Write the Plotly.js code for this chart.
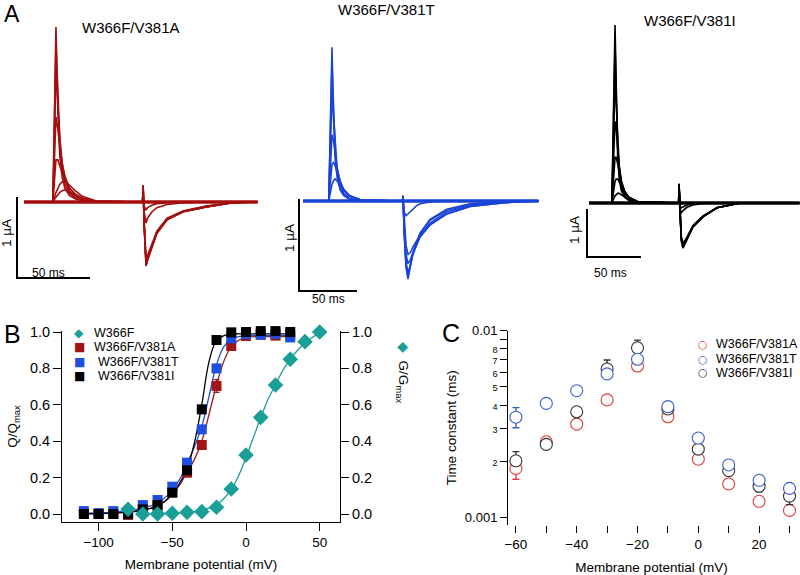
<!DOCTYPE html>
<html><head><meta charset="utf-8">
<script src="https://cdn.plot.ly/plotly-3.0.1.min.js"></script>
<style>html,body{margin:0;padding:0;background:#fff}#chart{width:800px;height:575px}</style>
</head><body><div id="chart"></div>
<script>
// ================= DATA =================
// ---- Panel A: current traces (time in ms, current in µA) ----
const tRed = [0, 19.8, 21.9, 23.2, 24.6, 26.2, 28, 31, 35, 40, 50, 81.2, 81.6, 82.3, 83.6, 84.6, 87.7, 91, 98, 109, 125, 143, 160];
const redSweeps = [
  [0,0,2.16,1.10,0.55,0.30,0.17,0.08,0.04,0.02,0, 0,0.21,-0.30,-0.79,-0.72,-0.56,-0.39,-0.22,-0.12,-0.06,-0.01,0],
  [0,0,1.98,1.30,0.72,0.40,0.22,0.11,0.05,0.02,0, 0,0.20,-0.28,-0.78,-0.71,-0.55,-0.38,-0.22,-0.12,-0.06,-0.01,0],
  [0,0,1.62,1.22,0.78,0.48,0.29,0.14,0.07,0.03,0, 0,0.20,-0.27,-0.77,-0.71,-0.55,-0.38,-0.21,-0.12,-0.06,-0.01,0],
  [0,0,1.05,0.90,0.66,0.47,0.32,0.18,0.09,0.04,0.01, 0,0.19,-0.26,-0.75,-0.69,-0.54,-0.37,-0.21,-0.11,-0.05,-0.01,0],
  [0,0,0.52,0.52,0.44,0.35,0.27,0.17,0.10,0.05,0.01, 0,0.18,-0.24,-0.72,-0.66,-0.52,-0.36,-0.20,-0.11,-0.05,-0.01,0],
  [0,0,0.12,0.18,0.22,0.25,0.26,0.21,0.14,0.07,0.01, 0,0.15,-0.12,-0.26,-0.20,-0.12,-0.07,-0.03,-0.01,0,0,0],
  [0,0,0.06,0.09,0.12,0.14,0.15,0.12,0.08,0.04,0.01, 0,0.12,-0.05,-0.10,-0.07,-0.04,-0.02,-0.01,0,0,0,0]
];
const tBlue = [0, 22.2, 25, 26.3, 27.8, 29.5, 32, 35, 40, 50, 85.8, 86.2, 87.2, 88.8, 90.5, 92.5, 94.8, 98, 101, 109.5, 124, 144, 172, 203];
const blueSweeps = [
  [0,0,1.67,0.90,0.45,0.25,0.12,0.06,0.02,0, 0,0.06,-0.35,-0.72,-0.85,-0.72,-0.57,-0.45,-0.35,-0.20,-0.09,-0.03,-0.01,0],
  [0,0,1.50,0.98,0.52,0.28,0.14,0.07,0.02,0, 0,0.06,-0.33,-0.70,-0.82,-0.70,-0.56,-0.44,-0.35,-0.21,-0.10,-0.04,-0.01,0],
  [0,0,1.18,0.92,0.58,0.34,0.18,0.09,0.03,0, 0,0.05,-0.30,-0.66,-0.78,-0.70,-0.58,-0.47,-0.38,-0.24,-0.12,-0.05,-0.01,0],
  [0,0,0.72,0.66,0.50,0.36,0.22,0.12,0.05,0.01, 0,0.05,-0.26,-0.58,-0.68,-0.64,-0.56,-0.47,-0.39,-0.26,-0.14,-0.06,-0.02,0],
  [0,0,0.40,0.42,0.38,0.31,0.21,0.13,0.06,0.01, 0,0.05,-0.22,-0.48,-0.58,-0.56,-0.50,-0.43,-0.37,-0.26,-0.14,-0.06,-0.02,0],
  [0,0,0.18,0.22,0.24,0.22,0.18,0.12,0.06,0.01, 0,0.04,-0.12,-0.16,-0.14,-0.11,-0.08,-0.05,-0.03,-0.01,0,0,0,0]
];
const tBlack = [0, 21.2, 24.1, 25.2, 26.5, 28, 30, 33, 37, 45, 83, 83.4, 84.2, 85.5, 87, 90.7, 96.3, 105.6, 118.5, 140, 195];
const blackSweeps = [
  [0,0,3.71,2.00,1.00,0.50,0.25,0.12,0.05,0.01, 0,0.40,-0.20,-0.80,-0.94,-0.77,-0.50,-0.29,-0.10,0,0],
  [0,0,3.30,2.20,1.20,0.62,0.31,0.15,0.06,0.01, 0,0.40,-0.20,-0.78,-0.92,-0.76,-0.50,-0.29,-0.10,0,0],
  [0,0,2.60,2.05,1.30,0.75,0.40,0.19,0.08,0.02, 0,0.38,-0.20,-0.76,-0.90,-0.75,-0.49,-0.28,-0.10,0,0],
  [0,0,1.70,1.55,1.15,0.78,0.46,0.23,0.10,0.02, 0,0.37,-0.19,-0.73,-0.87,-0.73,-0.48,-0.28,-0.10,0,0],
  [0,0,0.95,0.95,0.82,0.64,0.44,0.25,0.12,0.03, 0,0.35,-0.18,-0.70,-0.84,-0.71,-0.47,-0.27,-0.10,0,0],
  [0,0,0.45,0.50,0.50,0.44,0.34,0.22,0.12,0.03, 0,0.33,-0.12,-0.20,-0.16,-0.09,-0.04,-0.01,0,0,0],
  [0,0,0.15,0.18,0.20,0.20,0.17,0.12,0.07,0.02, 0,0.30,-0.08,-0.10,-0.08,-0.04,-0.02,0,0,0,0]
];
const scaleTime = 50;     // ms
const scaleCurrent = 1;   // µA
const panelTitles = ['W366F/V381A', 'W366F/V381T', 'W366F/V381I'];

// ---- Panel B: Q/Qmax and G/Gmax vs membrane potential (mV) ----
const vQ = [-110,-100,-90,-80,-70,-60,-50,-40,-30,-20,-10,0,10,20,30];
const qA = [0, 0, 0, -0.005, 0.025, 0.04, 0.12, 0.227, 0.379, 0.703, 0.923, 0.978, 0.985, 0.98, 0.985];
const qT = [0.016, 0.005, 0.016, 0.005, 0.049, 0.077, 0.15, 0.282, 0.465, 0.80, 0.965, 0.987, 0.985, 0.99, 0.97];
const qI = [0, 0, 0, 0, 0.025, 0.05, 0.117, 0.24, 0.575, 0.956, 0.998, 1.0, 1.005, 1.005, 1.0];
const qAerr = [0,0,0,0,0,0,0,0,0.02,0.035,0,0,0,0,0];
const qIerr = [0,0,0,0,0,0,0,0,0.02,0,0,0,0,0,0];
const vG = [-80,-70,-60,-50,-40,-30,-20,-10,0,10,20,30,40,50];
const gW = [0.026, 0, 0, 0.004, 0.009, 0.013, 0.037, 0.137, 0.324, 0.531, 0.709, 0.85, 0.947, 1.0];
// fitted curves
const vFitQ = [-112,-100,-90,-80,-70,-60,-55,-50,-45,-40,-35,-30,-25,-20,-15,-10,-5,0,10,20,30];
const fitQI = [0,0.002,0.005,0.01,0.02,0.045,0.07,0.11,0.17,0.25,0.39,0.6,0.84,0.955,0.98,0.99,0.99,0.99,0.99,0.99,0.99];
const fitQT = [0.003,0.006,0.01,0.018,0.032,0.06,0.09,0.13,0.19,0.275,0.37,0.48,0.65,0.82,0.92,0.96,0.975,0.98,0.98,0.98,0.98];
const fitQA = [0.002,0.004,0.007,0.012,0.022,0.045,0.07,0.11,0.16,0.23,0.30,0.40,0.55,0.71,0.84,0.92,0.955,0.97,0.975,0.975,0.975];
const vFitG = [-60,-50,-40,-30,-20,-15,-10,-5,0,5,10,15,20,25,30,35,40,45,50];
const fitG = [0.002,0.004,0.008,0.02,0.05,0.085,0.135,0.21,0.31,0.42,0.53,0.63,0.71,0.79,0.85,0.9,0.94,0.97,0.995];

// ---- Panel C: time constants vs membrane potential ----
const vTau = [-60,-50,-40,-30,-20,-10,0,10,20,30];
const tauA = [0.00183, 0.00254, 0.00316, 0.00426, 0.00647, 0.00346, 0.00205, 0.00151, 0.00122, 0.00109];
const tauT = [0.00344, 0.00408, 0.00477, 0.00587, 0.00703, 0.00392, 0.00266, 0.00191, 0.00158, 0.00143];
const tauI = [0.00201, 0.00246, 0.00368, 0.00624, 0.0081, 0.00381, 0.00232, 0.00178, 0.00147, 0.0013];
const tauAerrUp = [0, 0.00016, 0, 0, 0, 0, 0, 0, 0, 0];
const tauAerrDn = [0.00023, 0, 0, 0, 0, 0, 0, 0, 0, 0];
const tauTerrUp = [0.00043, 0, 0, 0, 0, 0, 0, 0, 0, 0.00008];
const tauTerrDn = [0.00042, 0, 0, 0, 0, 0, 0, 0, 0, 0];
const tauIerrUp = [0.00024, 0, 0, 0.00073, 0.0008, 0, 0, 0, 0, 0];
const tauIerrDn = [0, 0, 0, 0, 0, 0.00015, 0, 0, 0.0001, 0.00013];
const seriesNames = ['W366F/V381A', 'W366F/V381T', 'W366F/V381I'];

// ================= LAYOUT HELPERS =================
const W = 800, H = 575;
const FONT = 'Liberation Sans, Arial, Helvetica, sans-serif';
const px = x => x / W;
const py = y => 1 - y / H;
function calib(c) {
  return {
    domainX: [c.box[0] / W, c.box[2] / W],
    domainY: [1 - c.box[3] / H, 1 - c.box[1] / H],
    rangeX: [(c.box[0] - c.x0) / c.pxPerMs, (c.box[2] - c.x0) / c.pxPerMs],
    rangeY: [(c.y0 - c.box[3]) / c.pxPerUA, (c.y0 - c.box[1]) / c.pxPerUA],
    toT: p => (p - c.x0) / c.pxPerMs,
    toI: p => (c.y0 - p) / c.pxPerUA
  };
}
const panelsA = [
  { col: '#a50e0e', t: tRed,   sw: redSweeps,   c: calib({x0: 24,  pxPerMs: 1.46, y0: 202, pxPerUA: 81, box: [5, 12, 268, 290]}),  bar: [17, 278] },
  { col: '#1a44d6', t: tBlue,  sw: blueSweeps,  c: calib({x0: 303, pxPerMs: 1.16, y0: 201, pxPerUA: 92, box: [283, 5, 545, 300]}), bar: [299, 291] },
  { col: '#000000', t: tBlack, sw: blackSweeps, c: calib({x0: 589, pxPerMs: 1.08, y0: 203, pxPerUA: 48, box: [562, 10, 800, 270]}), bar: [587, 257] }
];

const traces = [];
const layout = {
  width: W, height: H, margin: {l: 0, r: 0, t: 0, b: 0},
  paper_bgcolor: '#fff', plot_bgcolor: 'rgba(0,0,0,0)',
  showlegend: false, hovermode: false,
  font: {family: FONT, size: 13, color: '#000'},
  annotations: []
};
function ann(text, x, y, o) {
  layout.annotations.push(Object.assign({text, x: px(x), y: py(y), xref: 'paper', yref: 'paper',
    showarrow: false, xanchor: 'center', yanchor: 'middle', borderpad: 0,
    font: {size: 13, color: '#000', family: FONT}}, o || {}));
}

// ---- Panel A ----
panelsA.forEach((p, i) => {
  const n = i + 1, xa = 'x' + n, ya = 'y' + n;
  const sfx = n === 1 ? '' : n;
  layout['xaxis' + sfx] = {domain: p.c.domainX, range: p.c.rangeX, visible: false, fixedrange: true, anchor: ya};
  layout['yaxis' + sfx] = {domain: p.c.domainY, range: p.c.rangeY, visible: false, fixedrange: true, anchor: xa};
  // noisy baseline band
  traces.push({x: [p.t[0], p.t[p.t.length - 1]], y: [0, 0], xaxis: xa, yaxis: ya, mode: 'lines',
    line: {color: p.col, width: 3.4}});
  p.sw.forEach(s => traces.push({x: p.t, y: s, xaxis: xa, yaxis: ya, mode: 'lines',
    line: {color: p.col, width: 1.6}}));
  // scale bar
  const t0 = p.c.toT(p.bar[0]), i0 = p.c.toI(p.bar[1]);
  traces.push({x: [t0, t0, t0 + scaleTime], y: [i0 + scaleCurrent, i0, i0], xaxis: xa, yaxis: ya,
    mode: 'lines', line: {color: '#000', width: 2}});
});
ann('A', 3, 14, {xanchor: 'left', font: {size: 23, family: FONT, color: '#000'}});
ann(panelTitles[0], 131, 27, {font: {size: 15, family: FONT, color: '#000'}});
ann(panelTitles[1], 386, 9, {font: {size: 15, family: FONT, color: '#000'}});
ann(panelTitles[2], 690, 20, {font: {size: 15, family: FONT, color: '#000'}});
ann('50 ms', 48, 273, {font: {size: 12, family: FONT, color: '#000'}});
ann('1 µA', 7, 233, {textangle: -90, font: {size: 13.5, family: FONT, color: '#000'}});
ann('50 ms', 328, 299, {font: {size: 12, family: FONT, color: '#000'}});
ann('1 µA', 289, 238, {textangle: -90, font: {size: 13.5, family: FONT, color: '#000'}});
ann('50 ms', 610, 273, {font: {size: 12, family: FONT, color: '#000'}});
ann('1 µA', 574, 230, {textangle: -90, font: {size: 13.5, family: FONT, color: '#000'}});

// ---- Panel B ----
const bTop = 331, bBot = 522;
const qOf = p => (514 - p) / 182;
const vOf = p => (p - 246) / 1.474;
layout.xaxis4 = {domain: [px(62), px(340)], range: [vOf(62), vOf(340)], anchor: 'y4',
  showline: true, linecolor: '#000', linewidth: 1, ticks: 'outside', ticklen: 8, tickwidth: 1, tickcolor: '#000',
  tickvals: [-100, -50, 0, 50], showgrid: false, zeroline: false, fixedrange: true,
  tickfont: {size: 13.5}, title: {text: 'Membrane potential (mV)', font: {size: 13.5}, standoff: 10}};
const yB = {domain: [py(bBot), py(bTop)], range: [qOf(bBot), qOf(bTop)], anchor: 'x4',
  showline: true, linecolor: '#000', linewidth: 1, ticks: 'outside', ticklen: 8, tickwidth: 1, tickcolor: '#000',
  tickvals: [0, 0.2, 0.4, 0.6, 0.8, 1.0], tickformat: '.1f', showgrid: false, zeroline: false, fixedrange: true,
  tickfont: {size: 14.5}};
layout.yaxis4 = Object.assign({}, yB, {title: {text: 'Q/Q<sub>max</sub>', font: {size: 13.5}, standoff: 9}});
layout.yaxis5 = Object.assign({}, yB, {overlaying: 'y4', side: 'right'});

const cTeal = '#1a9e98', cRedB = '#a01414', cBlueB = '#1f4fe0', cBlkB = '#000';
traces.push({x: vFitG, y: fitG, xaxis: 'x4', yaxis: 'y5', mode: 'lines', line: {color: cTeal, width: 1.3, shape: 'spline'}});
traces.push({x: vFitQ, y: fitQA, xaxis: 'x4', yaxis: 'y4', mode: 'lines', line: {color: cRedB, width: 1.3, shape: 'spline'}});
traces.push({x: vFitQ, y: fitQT, xaxis: 'x4', yaxis: 'y4', mode: 'lines', line: {color: cBlueB, width: 1.3, shape: 'spline'}});
traces.push({x: vFitQ, y: fitQI, xaxis: 'x4', yaxis: 'y4', mode: 'lines', line: {color: cBlkB, width: 1.3, shape: 'spline'}});
traces.push({x: vG, y: gW, xaxis: 'x4', yaxis: 'y5', mode: 'markers', cliponaxis: false,
  marker: {symbol: 'diamond', size: 12, color: cTeal}});
traces.push({x: vQ, y: qA, xaxis: 'x4', yaxis: 'y4', mode: 'markers', cliponaxis: false,
  error_y: {type: 'data', array: qAerr, color: cRedB, thickness: 1.2, width: 3},
  marker: {symbol: 'square', size: 10, color: cRedB}});
traces.push({x: vQ, y: qT, xaxis: 'x4', yaxis: 'y4', mode: 'markers', cliponaxis: false,
  marker: {symbol: 'square', size: 10, color: cBlueB}});
traces.push({x: vQ, y: qI, xaxis: 'x4', yaxis: 'y4', mode: 'markers', cliponaxis: false,
  error_y: {type: 'data', array: qIerr, color: cBlkB, thickness: 1.2, width: 3},
  marker: {symbol: 'square', size: 10, color: cBlkB}});
ann('B', 12, 334, {font: {size: 25, family: FONT, color: '#000'}});
const legB = [['◆', cTeal, 'W366F', 93], ['■', cRedB, 'W366F/V381A', 93], ['■', cBlueB, 'W366F/V381T', 97], ['■', cBlkB, 'W366F/V381I', 97]];
legB.forEach((e, k) => {
  const yy = 333 + k * 14.3;
  ann(e[0], 79, yy, {font: {size: 12, color: e[1], family: 'DejaVu Sans'}});
  ann(e[2], e[3], yy, {xanchor: 'left', font: {size: 12.5, color: '#000', family: FONT}});
});
ann('<span style="color:' + cTeal + '">◆</span>  G/G<sub>max</sub>', 403, 372, {textangle: 90, font: {size: 13.5, family: FONT, color: '#000'}});

// ---- Panel C ----
const vC = p => (p - 698.3) / 3.04;
const lC = p => -2 - (p - 330.7) / 186.7;
const small = d => '<span style="font-size:9px">' + d + '</span>';
layout.xaxis6 = {domain: [px(508), px(795)], range: [vC(508), vC(795)], anchor: 'y6',
  showline: false, ticks: 'outside', ticklen: 7, tickwidth: 1, tickcolor: '#000',
  tickvals: [-60, -40, -20, 0, 20],
  minor: {tickvals: [-50, -30, -10, 10, 30], ticks: 'outside', ticklen: 7, tickwidth: 1, tickcolor: '#000', showgrid: false},
  showgrid: false, zeroline: false, fixedrange: true, tickfont: {size: 13.5},
  title: {text: 'Membrane potential (mV)', font: {size: 13.5}, standoff: 11}};
layout.yaxis6 = {domain: [py(525), py(330.7)], type: 'log', range: [lC(525), lC(330.7)], anchor: 'x6',
  showline: true, linecolor: '#000', linewidth: 1, ticks: 'outside', ticklen: 7, tickwidth: 1, tickcolor: '#000',
  tickvals: [0.001, 0.002, 0.003, 0.004, 0.005, 0.006, 0.007, 0.008, 0.01],
  ticktext: ['0.001', small('2'), small('3'), small('4'), small('5'), small('6'), small('7'), small('8'), '0.01'],
  minor: {tickvals: [0.009], ticks: 'outside', ticklen: 7, tickwidth: 1, tickcolor: '#000', showgrid: false},
  showgrid: false, zeroline: false, fixedrange: true, tickfont: {size: 13},
  title: {text: 'Time constant (ms)', font: {size: 13.5}, standoff: 5}};
const cRedC = '#e23b3b', cBlueC = '#3d5fd1', cBlkC = '#333333';
function tauTrace(y, up, dn, col) {
  return {x: vTau, y, xaxis: 'x6', yaxis: 'y6', mode: 'markers', cliponaxis: false,
    error_y: {type: 'data', symmetric: false, array: up, arrayminus: dn, color: col, thickness: 1.4, width: 3.5},
    marker: {symbol: 'circle', size: 12, color: '#fff', line: {color: col, width: 1.1}}};
}
traces.push(tauTrace(tauA, tauAerrUp, tauAerrDn, cRedC));
traces.push(tauTrace(tauI, tauIerrUp, tauIerrDn, cBlkC));
traces.push(tauTrace(tauT, tauTerrUp, tauTerrDn, cBlueC));
ann('C', 451, 333, {font: {size: 25, family: FONT, color: '#000'}});
[[cRedC, 344], [cBlueC, 359], [cBlkC, 372.5]].forEach((e, k) => {
  ann('○', 703, e[1], {font: {size: 11, color: e[0], family: 'DejaVu Sans'}});
  ann(seriesNames[k], 715, e[1], {xanchor: 'left', font: {size: 12.5, color: '#000', family: FONT}});
});

Plotly.newPlot('chart', traces, layout, {staticPlot: true, displayModeBar: false});
</script>
</body></html>
